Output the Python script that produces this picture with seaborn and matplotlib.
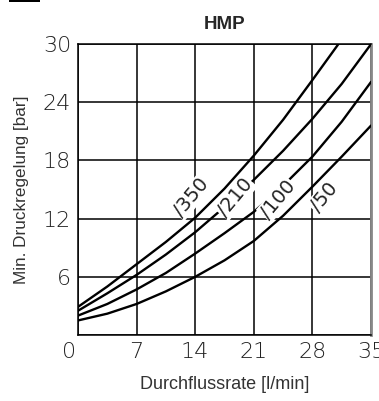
import pandas as pd
import matplotlib
matplotlib.use("Agg")
import matplotlib.pyplot as plt
import matplotlib.transforms as mtransforms
import seaborn as sns
from matplotlib.patches import Rectangle

flow_350 = [0, 3.5, 7, 10.5, 14, 17.5, 21, 24.5, 28, 31.1]
p_350    = [2.9, 5.0, 7.3, 9.6, 12.1, 15.1, 18.5, 22.2, 26.3, 30.0]
flow     = [0, 3.5, 7, 10.5, 14, 17.5, 21, 24.5, 28, 31.5, 35]
p_210    = [2.5, 4.3, 6.2, 8.3, 10.6, 13.2, 16.0, 19.0, 22.3, 25.9, 30.0]
p_100    = [2.0, 3.2, 4.7, 6.4, 8.4, 10.5, 12.7, 15.4, 18.4, 22.0, 26.1]
p_50     = [1.5, 2.2, 3.2, 4.5, 6.0, 7.7, 9.7, 12.3, 15.3, 18.4, 21.6]

labels   = ["/350", "/210", "/100", "/50"]
label_x  = [13.5, 18.8, 23.9, 29.4]
label_y  = [14.2, 14.2, 14.0, 14.2]

xticks = [0, 7, 14, 21, 28, 35]
yticks = [0, 6, 12, 18, 24, 30]

rows = []
for name, xs, ys in [("350", flow_350, p_350), ("210", flow, p_210),
                     ("100", flow, p_100), ("50", flow, p_50)]:
    for a, b in zip(xs, ys):
        rows.append({"flow": a, "p": b, "curve": name})
df = pd.DataFrame(rows)

sns.set_style("white")
plt.rcParams['font.family'] = ['Liberation Sans', 'DejaVu Sans']

fig = plt.figure(figsize=(3.79, 4.01), dpi=100)
ax = fig.add_axes([0.2058, 0.1646, 0.979 - 0.2058, 0.890 - 0.1646])

sns.lineplot(data=df, x="flow", y="p", units="curve", estimator=None,
             color="black", linewidth=1.7, ax=ax, legend=False, zorder=3)

ax.set_xlim(0, 35)
ax.set_ylim(0, 30)
ax.set_xticks(xticks)
ax.set_yticks(yticks)
ax.grid(True, color="black", linewidth=1.1)
ax.set_axisbelow(True)

tick_font = dict(family=['Liberation Sans Narrow', 'DejaVu Sans'], size=16,
                 weight='light', color='#222222')
ax.set_xticklabels([str(t) for t in xticks], fontdict=tick_font)
# the y axis shows no "0", the x axis one sits a bit to the left
ax.set_yticklabels([str(t) if t else "" for t in yticks], fontdict=tick_font)
ax.tick_params(length=0, pad=5)
shift = mtransforms.ScaledTranslation(-0.09, 0, fig.dpi_scale_trans)
lab0 = ax.get_xticklabels()[0]
lab0.set_transform(lab0.get_transform() + shift)

for s in ["left", "bottom", "top"]:
    ax.spines[s].set_color("black")
    ax.spines[s].set_linewidth(1.1)
ax.spines["right"].set_color("#888888")
ax.spines["right"].set_linewidth(2)

for t, x, y in zip(labels, label_x, label_y):
    ax.text(x, y, t, rotation=50, ha="center", va="center", fontsize=14,
            family=['Liberation Sans Narrow', 'DejaVu Sans'], color='#222222',
            bbox=dict(facecolor="white", edgecolor="none", pad=0.5), zorder=4)

ax.set_title("HMP", fontsize=13.5, fontweight="bold", pad=11)
ax.set_xlabel("Durchflussrate [l/min]", fontsize=13, color="#333333", labelpad=10)
ax.set_ylabel("Min. Druckregelung [bar]", fontsize=12.3, color="#333333", labelpad=10)

fig.patches.append(Rectangle((9 / 379, 1 - 2 / 401), 31 / 379, 2 / 401,
                             transform=fig.transFigure, facecolor="black",
                             linewidth=0))

fig.savefig("out.png", dpi=100)
